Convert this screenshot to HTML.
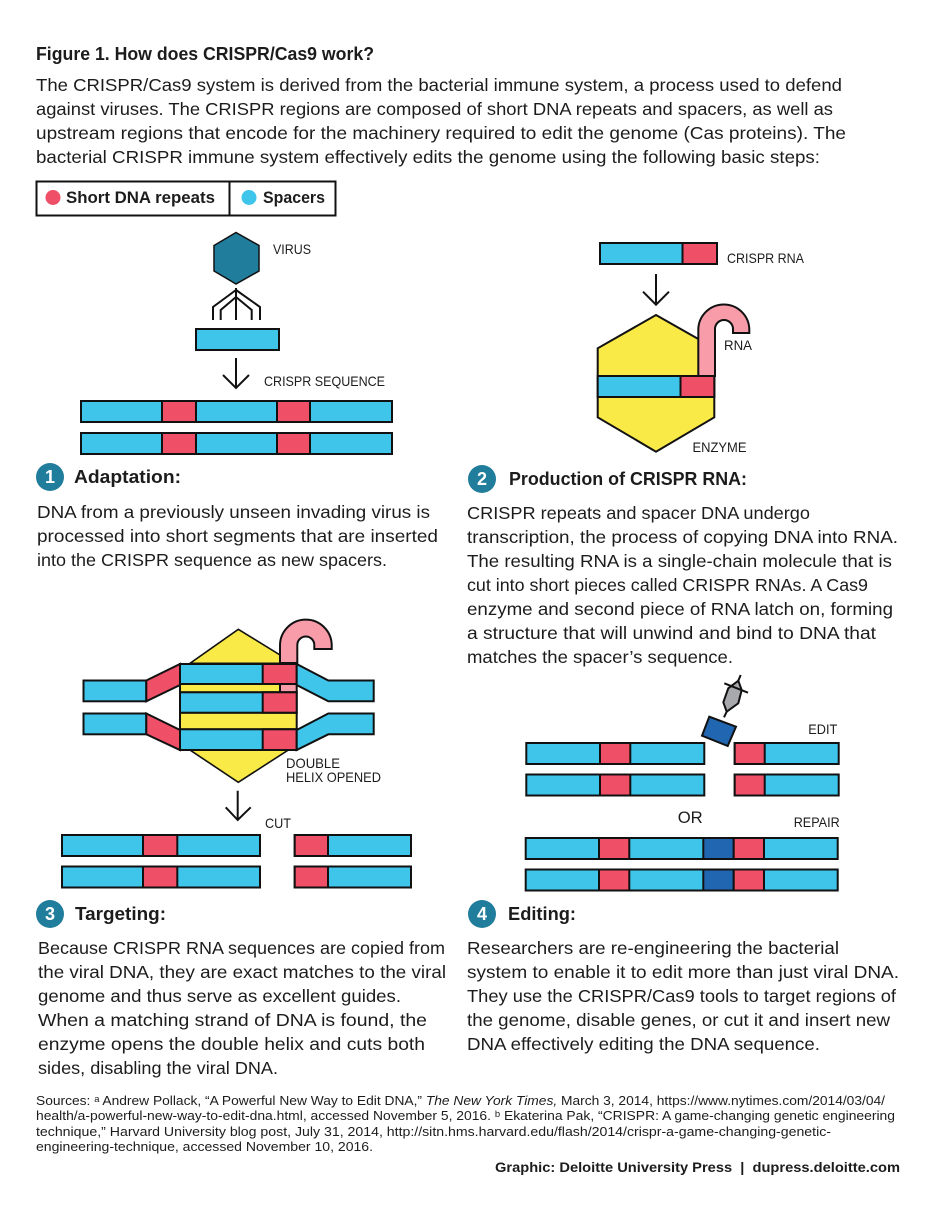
<!DOCTYPE html>
<html><head><meta charset="utf-8"><style>
html,body{margin:0;padding:0;background:#fff}
svg{display:block}
text{font-family:"Liberation Sans",sans-serif;fill:#1c1c1c}
.b{font-size:17.5px}
.h{font-size:18px;font-weight:700}
.l{font-size:14px}
.s{font-size:13px}
.bs rect,.bs path,.bs polygon,.bs line{stroke:#111;stroke-width:2}
.bl{fill:#3fc5ea}.rd{fill:#f04f68}.yl{fill:#f9ea47}.pk{fill:#f99caa}.db{fill:#2166b0}
.ln{fill:none;stroke:#111;stroke-width:2}
.n{font-size:18px;font-weight:700;fill:#fff;text-anchor:middle}
</style></head><body>
<svg xmlns="http://www.w3.org/2000/svg" width="936" height="1224" viewBox="0 0 936 1224">
<rect width="936" height="1224" fill="#fff"/>

<text class="h" x="36" y="60" textLength="338" lengthAdjust="spacingAndGlyphs">Figure 1. How does CRISPR/Cas9 work?</text>
<text class="b" x="36" y="91" textLength="806" lengthAdjust="spacingAndGlyphs">The CRISPR/Cas9 system is derived from the bacterial immune system, a process used to defend</text>
<text class="b" x="36" y="115" textLength="797" lengthAdjust="spacingAndGlyphs">against viruses. The CRISPR regions are composed of short DNA repeats and spacers, as well as</text>
<text class="b" x="36" y="139" textLength="810" lengthAdjust="spacingAndGlyphs">upstream regions that encode for the machinery required to edit the genome (Cas proteins). The</text>
<text class="b" x="36" y="163" textLength="784" lengthAdjust="spacingAndGlyphs">bacterial CRISPR immune system effectively edits the genome using the following basic steps:</text>

<g class="bs">
<rect x="36.5" y="181.5" width="299" height="34" fill="#fff"/>
<line x1="229.5" y1="181.5" x2="229.5" y2="215.5"/>
</g>
<circle cx="53" cy="197.5" r="7.5" class="rd"/>
<circle cx="249" cy="197.5" r="7.5" class="bl"/>
<text class="h" x="66" y="203" textLength="149" lengthAdjust="spacingAndGlyphs" style="font-size:16.5px">Short DNA repeats</text>
<text class="h" x="263" y="203" textLength="62" lengthAdjust="spacingAndGlyphs" style="font-size:16.5px">Spacers</text>

<!-- Panel 1 -->
<polygon points="236,232.5 259,245.5 259,271 236,284 214,271 214,245.5" fill="#217d9c" stroke="#111" stroke-width="1.5"/>
<path class="ln" d="M236 288V320M236 290L260 307V320M236 290L213 307V320M236 297L251.7 310V320M236 297L220.7 310V320"/>
<g class="bs">
<rect x="196" y="329" width="83" height="21" class="bl"/>
<rect x="81" y="401" width="311" height="21" class="bl"/>
<rect x="162" y="401" width="34" height="21" class="rd"/>
<rect x="277" y="401" width="33" height="21" class="rd"/>
<rect x="81" y="433" width="311" height="21" class="bl"/>
<rect x="162" y="433" width="34" height="21" class="rd"/>
<rect x="277" y="433" width="33" height="21" class="rd"/>
</g>
<path class="ln" d="M236 358V388M223 375L236 388L249 375"/>
<text class="l" x="273" y="254" textLength="38" lengthAdjust="spacingAndGlyphs">VIRUS</text>
<text class="l" x="264" y="386" textLength="121" lengthAdjust="spacingAndGlyphs">CRISPR SEQUENCE</text>

<circle cx="50" cy="477" r="14" fill="#217d9c"/><text class="n" x="50" y="483">1</text>
<text class="h" x="74" y="483" textLength="107" lengthAdjust="spacingAndGlyphs">Adaptation:</text>
<text class="b" x="37" y="518" textLength="393" lengthAdjust="spacingAndGlyphs">DNA from a previously unseen invading virus is</text>
<text class="b" x="37" y="542" textLength="401" lengthAdjust="spacingAndGlyphs">processed into short segments that are inserted</text>
<text class="b" x="37" y="566" textLength="350" lengthAdjust="spacingAndGlyphs">into the CRISPR sequence as new spacers.</text>

<!-- Panel 2 -->
<g class="bs">
<rect x="600" y="243" width="117" height="21" class="bl"/>
<rect x="682.5" y="243" width="34.5" height="21" class="rd"/>
<polygon points="656,315 698.3,339 714.3,339 714.3,417.3 656,451.7 597.7,417.3 597.7,348.3" class="yl"/>
<path stroke-linejoin="miter" d="M698.3 376V330A25.5 25.5 0 0 1 749.3 330V333H733V329A9 9 0 0 0 715 329V376Z" class="pk"/>
<rect x="597.7" y="376" width="116.6" height="21" class="bl"/>
<rect x="680.5" y="376" width="33.8" height="21" class="rd"/>
</g>
<path class="ln" d="M656 274V304.7M643 291.7L656 304.7L669 291.7"/>
<text class="l" x="727" y="263" textLength="77" lengthAdjust="spacingAndGlyphs">CRISPR RNA</text>
<text class="l" x="724" y="350" textLength="28" lengthAdjust="spacingAndGlyphs">RNA</text>
<text class="l" x="692.5" y="452" textLength="54" lengthAdjust="spacingAndGlyphs">ENZYME</text>

<circle cx="482" cy="479" r="14" fill="#217d9c"/><text class="n" x="482" y="485">2</text>
<text class="h" x="509" y="485" textLength="238" lengthAdjust="spacingAndGlyphs">Production of CRISPR RNA:</text>
<text class="b" x="467" y="519" textLength="343" lengthAdjust="spacingAndGlyphs">CRISPR repeats and spacer DNA undergo</text>
<text class="b" x="467" y="543" textLength="431" lengthAdjust="spacingAndGlyphs">transcription, the process of copying DNA into RNA.</text>
<text class="b" x="467" y="567" textLength="425" lengthAdjust="spacingAndGlyphs">The resulting RNA is a single-chain molecule that is</text>
<text class="b" x="467" y="591" textLength="401" lengthAdjust="spacingAndGlyphs">cut into short pieces called CRISPR RNAs. A Cas9</text>
<text class="b" x="467" y="615" textLength="426" lengthAdjust="spacingAndGlyphs">enzyme and second piece of RNA latch on, forming</text>
<text class="b" x="467" y="639" textLength="409" lengthAdjust="spacingAndGlyphs">a structure that will unwind and bind to DNA that</text>
<text class="b" x="467" y="663" textLength="266" lengthAdjust="spacingAndGlyphs">matches the spacer’s sequence.</text>

<!-- Panel 3 -->
<g class="bs">
<polygon points="238.3,629.3 280,655 288,663.3 190,663.3" class="yl" style="stroke-width:1.6"/>
<polygon points="190,750 288.3,750 238.3,782.3" class="yl" style="stroke-width:1.6"/>
<path d="M280 663V646A25.8 25.8 0 0 1 331.7 645V649H314.3V645A8.5 8.5 0 0 0 297.3 645V663Z" class="pk"/>
<rect x="180" y="684" width="100" height="8.3" class="yl"/>
<rect x="280" y="684" width="16.7" height="8.3" class="pk"/>
<rect x="180" y="712.7" width="116.7" height="16.6" class="yl"/>
<rect x="180" y="664" width="116.7" height="20" class="bl"/>
<rect x="262.7" y="664" width="34" height="20" class="rd"/>
<rect x="180" y="692.3" width="116.7" height="20.4" class="bl"/>
<rect x="262.7" y="692.3" width="34" height="20.4" class="rd"/>
<rect x="180" y="729.3" width="116.7" height="20.7" class="bl"/>
<rect x="262.7" y="729.3" width="34" height="20.7" class="rd"/>
<rect x="83.5" y="680.5" width="62.8" height="20.8" class="bl"/>
<rect x="83.5" y="713.5" width="62.8" height="20.8" class="bl"/>
<polygon points="146.3,680.5 180,664 180,685 146.3,701.3" class="rd"/>
<polygon points="146.3,713.5 180,730 180,750 146.3,734.3" class="rd"/>
<polygon points="296.7,664 328.3,680.5 373.7,680.5 373.7,701.3 328.3,701.3 296.7,685" class="bl"/>
<polygon points="296.7,730 328.3,713.5 373.7,713.5 373.7,734.3 328.3,734.3 296.7,750" class="bl"/>
<rect x="62" y="835" width="198" height="21" class="bl"/>
<rect x="143" y="835" width="34.3" height="21" class="rd"/>
<rect x="62" y="866.5" width="198" height="21" class="bl"/>
<rect x="143" y="866.5" width="34.3" height="21" class="rd"/>
<rect x="294.7" y="835" width="116.3" height="21" class="bl"/>
<rect x="294.7" y="835" width="33.3" height="21" class="rd"/>
<rect x="294.7" y="866.5" width="116.3" height="21" class="bl"/>
<rect x="294.7" y="866.5" width="33.3" height="21" class="rd"/>
</g>
<path class="ln" d="M237.7 790.7V820M225.7 807.3L237.7 820L250.7 807.3"/>
<text class="l" x="286" y="768" textLength="54" lengthAdjust="spacingAndGlyphs">DOUBLE</text>
<text class="l" x="286" y="782" textLength="95" lengthAdjust="spacingAndGlyphs">HELIX OPENED</text>
<text class="l" x="265" y="828" textLength="26" lengthAdjust="spacingAndGlyphs">CUT</text>

<circle cx="50" cy="914" r="14" fill="#217d9c"/><text class="n" x="50" y="920">3</text>
<text class="h" x="75" y="920" textLength="91" lengthAdjust="spacingAndGlyphs">Targeting:</text>
<text class="b" x="38" y="954" textLength="407" lengthAdjust="spacingAndGlyphs">Because CRISPR RNA sequences are copied from</text>
<text class="b" x="38" y="978" textLength="408" lengthAdjust="spacingAndGlyphs">the viral DNA, they are exact matches to the viral</text>
<text class="b" x="38" y="1002" textLength="363" lengthAdjust="spacingAndGlyphs">genome and thus serve as excellent guides.</text>
<text class="b" x="38" y="1026" textLength="389" lengthAdjust="spacingAndGlyphs">When a matching strand of DNA is found, the</text>
<text class="b" x="38" y="1050" textLength="387" lengthAdjust="spacingAndGlyphs">enzyme opens the double helix and cuts both</text>
<text class="b" x="38" y="1074" textLength="240" lengthAdjust="spacingAndGlyphs">sides, disabling the viral DNA.</text>

<!-- Panel 4 -->
<g class="bs">
<rect x="526.3" y="743" width="178" height="21" class="bl"/>
<rect x="600" y="743" width="30.3" height="21" class="rd"/>
<rect x="526.3" y="774.5" width="178" height="21" class="bl"/>
<rect x="600" y="774.5" width="30.3" height="21" class="rd"/>
<rect x="734.7" y="743" width="104" height="21" class="bl"/>
<rect x="734.7" y="743" width="30" height="21" class="rd"/>
<rect x="734.7" y="774.5" width="104" height="21" class="bl"/>
<rect x="734.7" y="774.5" width="30" height="21" class="rd"/>
<rect x="525.7" y="838" width="312" height="21" class="bl"/>
<rect x="599" y="838" width="30.3" height="21" class="rd"/>
<rect x="703.3" y="838" width="30.4" height="21" class="db"/>
<rect x="733.7" y="838" width="30.3" height="21" class="rd"/>
<rect x="525.7" y="869.5" width="312" height="21" class="bl"/>
<rect x="599" y="869.5" width="30.3" height="21" class="rd"/>
<rect x="703.3" y="869.5" width="30.4" height="21" class="db"/>
<rect x="733.7" y="869.5" width="30.3" height="21" class="rd"/>
<polygon points="709.3,716.7 736,726.7 727.7,746 702,735.7" class="db"/>
<polygon points="723.3,702.3 728.3,688.3 738.3,680.7 741.7,690 738.3,703.3 726.7,711.7" fill="#a7a9ac"/>
<line x1="724.3" y1="683.3" x2="748" y2="692.7"/>
<line x1="740.7" y1="675" x2="738.3" y2="680.7"/>
<line x1="726.7" y1="711.7" x2="724" y2="717.3"/>
</g>
<text class="l" x="808.3" y="734" textLength="29" lengthAdjust="spacingAndGlyphs">EDIT</text>
<text x="677.7" y="823" textLength="25" lengthAdjust="spacingAndGlyphs" style="font-size:17px">OR</text>
<text class="l" x="793.7" y="827" textLength="46" lengthAdjust="spacingAndGlyphs">REPAIR</text>

<circle cx="482" cy="914" r="14" fill="#217d9c"/><text class="n" x="482" y="920">4</text>
<text class="h" x="508" y="920" textLength="68" lengthAdjust="spacingAndGlyphs">Editing:</text>
<text class="b" x="467" y="954" textLength="372" lengthAdjust="spacingAndGlyphs">Researchers are re-engineering the bacterial</text>
<text class="b" x="467" y="978" textLength="432" lengthAdjust="spacingAndGlyphs">system to enable it to edit more than just viral DNA.</text>
<text class="b" x="467" y="1002" textLength="429" lengthAdjust="spacingAndGlyphs">They use the CRISPR/Cas9 tools to target regions of</text>
<text class="b" x="467" y="1026" textLength="423" lengthAdjust="spacingAndGlyphs">the genome, disable genes, or cut it and insert new</text>
<text class="b" x="467" y="1050" textLength="353" lengthAdjust="spacingAndGlyphs">DNA effectively editing the DNA sequence.</text>

<!-- Footer -->
<text class="s" x="36" y="1105" textLength="849" lengthAdjust="spacingAndGlyphs">Sources: ᵃ Andrew Pollack, “A Powerful New Way to Edit DNA,” <tspan font-style="italic">The New York Times,</tspan> March 3, 2014, https://www.nytimes.com/2014/03/04/</text>
<text class="s" x="36" y="1120" textLength="859" lengthAdjust="spacingAndGlyphs">health/a-powerful-new-way-to-edit-dna.html, accessed November 5, 2016. ᵇ Ekaterina Pak, “CRISPR: A game-changing genetic engineering</text>
<text class="s" x="36" y="1136" textLength="795" lengthAdjust="spacingAndGlyphs">technique,” Harvard University blog post, July 31, 2014, http://sitn.hms.harvard.edu/flash/2014/crispr-a-game-changing-genetic-</text>
<text class="s" x="36" y="1151" textLength="337" lengthAdjust="spacingAndGlyphs">engineering-technique, accessed November 10, 2016.</text>
<text x="495" y="1172" textLength="405" lengthAdjust="spacingAndGlyphs" style="font-size:14px;font-weight:700">Graphic: Deloitte University Press&#160;&#160;|&#160;&#160;dupress.deloitte.com</text>
</svg>
</body></html>
